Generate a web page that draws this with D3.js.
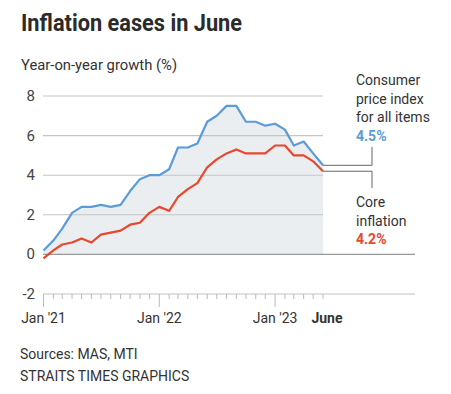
<!DOCTYPE html>
<html>
<head>
<meta charset="utf-8">
<script src="https://cdn.jsdelivr.net/npm/d3@7"></script>
<style>
  body { margin: 0; background: #fff; }
  svg { font-family: Roboto, "Open Sans", sans-serif; }
</style>
</head>
<body>
<div class="canvas"></div>
<script>
// monthly, Jan 2021 - Jun 2023
const months = d3.timeMonths(new Date(2021, 0, 1), new Date(2023, 6, 1));
const cpiAll = [0.2, 0.7, 1.3, 2.1, 2.4, 2.4, 2.5, 2.4, 2.5, 3.2, 3.8, 4.0,
	4.0, 4.3, 5.4, 5.4, 5.6, 6.7, 7.0, 7.5, 7.5, 6.7, 6.7, 6.5,
	6.6, 6.3, 5.5, 5.7, 5.1, 4.5];
const coreInfl = [-0.2, 0.2, 0.5, 0.6, 0.8, 0.6, 1.0, 1.1, 1.2, 1.5, 1.6, 2.1,
	2.4, 2.2, 2.9, 3.3, 3.6, 4.4, 4.8, 5.1, 5.3, 5.1, 5.1, 5.1,
	5.5, 5.5, 5.0, 5.0, 4.7, 4.2];
const yTicks = [-2, 0, 2, 4, 6, 8];
const xLabels = [
	{ date: new Date(2021, 0, 1), text: "Jan '21" },
	{ date: new Date(2022, 0, 1), text: "Jan '22" },
	{ date: new Date(2023, 0, 1), text: "Jan '23" },
	{ date: new Date(2023, 5, 1), text: "June", bold: true },
];

const blue = "#5b9bd8";
const red = "#e8472c";

const width = 451, height = 394;
const svg = d3.select(".canvas").append("svg")
	.attr("width", width)
	.attr("height", height);

const x = d3.scaleTime()
	.domain([new Date(2021, 0, 1), new Date(2023, 5, 1)])
	.range([43.5, 323]);
const y = d3.scaleLinear().domain([-2, 8]).range([294, 96]);

// title & subtitle
svg.append("text")
	.attr("x", 21).attr("y", 31)
	.attr("font-size", 23).attr("font-weight", 700)
	.attr("fill", "#2b2b2b")
	.attr("textLength", 221).attr("lengthAdjust", "spacingAndGlyphs")
	.text("Inflation eases in June");
svg.append("text")
	.attr("x", 21).attr("y", 70)
	.attr("font-size", 14.8).attr("fill", "#333")
	.text("Year-on-year growth (%)");

// area under CPI
const area = d3.area()
	.x((d, i) => x(months[i]))
	.y0(y(0))
	.y1((d) => y(d));
svg.append("path")
	.datum(cpiAll)
	.attr("d", area)
	.attr("fill", "#ebeef1");

// grid
svg.append("g").selectAll("line")
	.data(yTicks.filter((d) => d > -2))
	.join("line")
	.attr("x1", 43).attr("x2", (d) => (d === 0 ? 415 : 323))
	.attr("y1", (d) => y(d)).attr("y2", (d) => y(d))
	.attr("stroke", (d) => (d === 0 ? "#999" : "#c4c4c4"))
	.attr("stroke-width", (d) => (d === 0 ? 1.3 : 1.1));

// y labels
svg.append("g").selectAll("text")
	.data(yTicks)
	.join("text")
	.attr("x", 35).attr("y", (d) => y(d) + 5)
	.attr("text-anchor", "end")
	.attr("font-size", 15).attr("fill", "#444")
	.text((d) => d);

// x axis
const xAxis = svg.append("g").attr("transform", `translate(0, ${y(-2)})`);
xAxis.append("line")
	.attr("x1", 43).attr("x2", 415)
	.attr("stroke", "#c4c4c4").attr("stroke-width", 1.1);
xAxis.selectAll(".tick")
	.data(months)
	.join("line")
	.attr("x1", (d) => x(d)).attr("x2", (d) => x(d))
	.attr("y1", 0)
	.attr("y2", (d) => (d.getMonth() === 0 ? 13 : 5))
	.attr("stroke", "#bbb").attr("stroke-width", 1);
xAxis.selectAll(".lab")
	.data(xLabels)
	.join("text")
	.attr("x", (d) => x(d.date) + (d.bold ? 4 : 0))
	.attr("y", 29)
	.attr("text-anchor", "middle")
	.attr("font-size", 14)
	.attr("font-weight", (d) => (d.bold ? 700 : 400))
	.attr("fill", "#333")
	.text((d) => d.text);

// lines
const line = d3.line()
	.x((d, i) => x(months[i]))
	.y((d) => y(d));
svg.append("path").datum(cpiAll).attr("d", line)
	.attr("fill", "none").attr("stroke", blue).attr("stroke-width", 2.2)
	.attr("stroke-linejoin", "round");
svg.append("path").datum(coreInfl).attr("d", line)
	.attr("fill", "none").attr("stroke", red).attr("stroke-width", 2.2)
	.attr("stroke-linejoin", "round");

// leaders
const lastX = x(months[months.length - 1]);
const cpiLast = cpiAll[cpiAll.length - 1];
const coreLast = coreInfl[coreInfl.length - 1];
const leaders = svg.append("g").attr("fill", "none")
	.attr("stroke", "#666").attr("stroke-width", 1);
leaders.append("path")
	.attr("d", `M${lastX},${y(cpiLast)}H372V147`);
leaders.append("path")
	.attr("d", `M${lastX},${y(coreLast)}H372V188`);

// annotation labels
const note = (lines, x0, y0, color, value) => {
	const t = svg.append("text").attr("font-size", 14).attr("fill", "#333");
	lines.forEach((l, i) => {
		t.append("tspan").attr("x", x0).attr("y", y0 + i * 18.5).text(l);
	});
	t.append("tspan").attr("x", x0).attr("y", y0 + lines.length * 18.5)
		.attr("fill", color).attr("font-weight", 700)
		.text(value.toFixed(1) + "%");
};
note(["Consumer", "price index", "for all items"], 356, 85, blue, cpiLast);
note(["Core", "inflation"], 356, 207, red, coreLast);

// footer
svg.append("text").attr("x", 20).attr("y", 359)
	.attr("font-size", 14).attr("fill", "#333")
	.text("Sources: MAS, MTI");
svg.append("text").attr("x", 20).attr("y", 381)
	.attr("font-size", 14).attr("fill", "#333")
	.text("STRAITS TIMES GRAPHICS");
</script>
</body>
</html>
